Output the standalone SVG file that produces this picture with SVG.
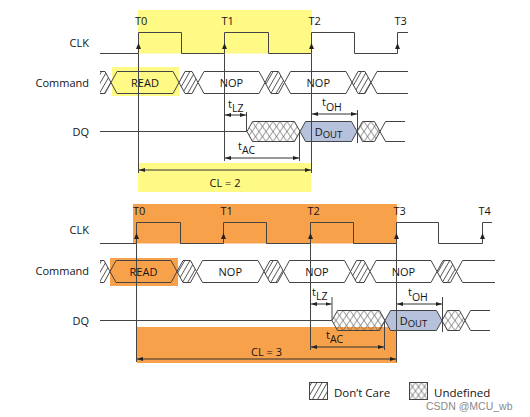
<svg xmlns="http://www.w3.org/2000/svg" width="530" height="417" viewBox="0 0 530 417">
<style>
text{font-family:"Open Sans","Noto Sans","Liberation Sans",sans-serif;font-size:11px;fill:#141414}
.lbl{text-anchor:end}
.mid{text-anchor:middle}
.sig{fill:none;stroke:#444;stroke-width:1}
.val{fill:#fff;stroke:#444;stroke-width:1}
.dc{fill:url(#dc);stroke:#444;stroke-width:1}
.ux1{fill:url(#ux1);stroke:#444;stroke-width:1}
.ux2{fill:url(#ux2);stroke:#444;stroke-width:1}
.dout{fill:#b6c1db;stroke:#444;stroke-width:1}
.ln{fill:none;stroke:#444;stroke-width:1}
.arr{fill:none;stroke:#333;stroke-width:1;marker-start:url(#ah);marker-end:url(#ah)}
.sub{font-size:9.5px}
.tsub{font-size:10.5px}
</style>
<defs>
<pattern id="dc" width="4.5" height="4.5" patternUnits="userSpaceOnUse" patternTransform="rotate(30)"><line x1="2.25" y1="-1" x2="2.25" y2="5.5" stroke="#444" stroke-width="0.8"/></pattern>
<pattern id="ux1" x="0" y="121.5" width="7" height="10" patternUnits="userSpaceOnUse"><path d="M0,0 L7,10 M7,0 L0,10" stroke="#555" stroke-width="0.7" fill="none"/></pattern>
<pattern id="ux2" x="0" y="310.5" width="7" height="10" patternUnits="userSpaceOnUse"><path d="M0,0 L7,10 M7,0 L0,10" stroke="#555" stroke-width="0.7" fill="none"/></pattern>
<pattern id="ux3" x="409.5" y="382.5" width="6" height="8.5" patternUnits="userSpaceOnUse"><path d="M0,0 L6,8.5 M6,0 L0,8.5" stroke="#555" stroke-width="0.7" fill="none"/></pattern>
<marker id="ah" viewBox="0 0 6 4" refX="6" refY="2" markerWidth="6" markerHeight="4" markerUnits="userSpaceOnUse" orient="auto-start-reverse"><path d="M0,0 L6,2 L0,4 Z" fill="#222"/></marker>
<path id="edge" d="M-2.5,6 L0,0 L2.5,6 Z" fill="#222"/>
</defs>

<g id="highlights">
<rect x="138" y="10" width="174" height="43.5" fill="#fff985"/>
<rect x="112" y="67" width="67" height="29" fill="#fff985"/>
<rect x="138" y="163" width="173" height="29" fill="#fff985"/>
<rect x="133" y="204" width="264" height="39.5" fill="#f8a14b"/>
<rect x="110" y="258" width="68" height="28" fill="#f8a14b"/>
<rect x="137" y="327" width="260" height="36" fill="#f8a14b"/>
</g>

<g id="labels-top">
<text class="lbl" x="89" y="46.5">CLK</text>
<text class="lbl" x="89" y="86.5">Command</text>
<text class="lbl" x="89" y="135.5">DQ</text>
<text x="135" y="25">T0</text>
<text x="221.5" y="25">T1</text>
<text x="308.5" y="25">T2</text>
<text x="394.5" y="25">T3</text>
</g>

<g id="clk-top">
<path class="sig" d="M100,53.5 H138.5 V32.5 H181.5 V53.5 H224.5 V32.5 H268.5 V53.5 H311.5 V32.5 H354.5 V53.5 H397.5 V32.5 H408"/>
<use href="#edge" x="138.5" y="43"/>
<use href="#edge" x="224.5" y="43"/>
<use href="#edge" x="311.5" y="43"/>
<use href="#edge" x="397.5" y="43"/>
</g>

<g id="cmd-top">
<polygon fill="url(#dc)" points="100,71.5 105,71.5 111,82.5 105,93.5 100,93.5"/>
<path class="sig" d="M100,71.5 H105 L111,82.5 L105,93.5 H100"/>
<polygon class="sig" points="111,82.5 117,71.5 173,71.5 179,82.5 173,93.5 117,93.5"/>
<text class="mid" x="145" y="86.5">READ</text>
<polygon class="dc" points="179,82.5 185,71.5 192,71.5 198,82.5 192,93.5 185,93.5"/>
<polygon class="val" points="198,82.5 204,71.5 259,71.5 265,82.5 259,93.5 204,93.5"/>
<text class="mid" x="231.5" y="86.5">NOP</text>
<polygon class="dc" points="265,82.5 271,71.5 278.5,71.5 284.5,82.5 278.5,93.5 271,93.5"/>
<polygon class="val" points="284.5,82.5 290.5,71.5 346,71.5 352,82.5 346,93.5 290.5,93.5"/>
<text class="mid" x="318.3" y="86.5">NOP</text>
<polygon class="dc" points="352,82.5 358,71.5 365,71.5 371,82.5 365,93.5 358,93.5"/>
<path class="sig" d="M408,71.5 H377 L371,82.5 L377,93.5 H408"/>
</g>

<g id="dq-top">
<path class="sig" d="M100,131.5 H247"/>
<polygon class="ux1" points="247,131.5 252.5,121.5 294.5,121.5 300,131.5 294.5,141.5 252.5,141.5"/>
<polygon class="dout" points="300,131.5 305.5,121.5 351.5,121.5 357,131.5 351.5,141.5 305.5,141.5"/>
<text class="mid" x="328.5" y="135.5">D<tspan class="sub" dy="2">OUT</tspan></text>
<polygon class="ux1" points="357,131.5 362.5,121.5 374.5,121.5 380,131.5 374.5,141.5 362.5,141.5"/>
<path class="sig" d="M405,121.5 H385.5 L380,131.5 L385.5,141.5 H405"/>
</g>

<g id="labels-bottom">
<text class="lbl" x="89" y="234">CLK</text>
<text class="lbl" x="89" y="275">Command</text>
<text class="lbl" x="89" y="324.5">DQ</text>
<text x="133" y="215">T0</text>
<text x="220.5" y="215">T1</text>
<text x="307.5" y="215">T2</text>
<text x="393.5" y="215">T3</text>
<text x="478.5" y="215">T4</text>
</g>

<g id="clk-bottom">
<path class="sig" d="M100,243.5 H136.5 V222.5 H180.5 V243.5 H223.5 V222.5 H266.5 V243.5 H310.5 V222.5 H353.5 V243.5 H396.5 V222.5 H438.5 V243.5 H482.5 V222.5 H492"/>
<use href="#edge" x="136.5" y="233"/>
<use href="#edge" x="223.5" y="233"/>
<use href="#edge" x="310.5" y="233"/>
<use href="#edge" x="396.5" y="233"/>
<use href="#edge" x="482.5" y="233"/>
</g>

<g id="cmd-bottom">
<polygon fill="url(#dc)" points="100,260.5 104,260.5 110,271.5 104,282.5 100,282.5"/>
<path class="sig" d="M100,260.5 H104 L110,271.5 L104,282.5 H100"/>
<polygon class="sig" points="110,271.5 116,260.5 171,260.5 177,271.5 171,282.5 116,282.5"/>
<text class="mid" x="143.5" y="275.5">READ</text>
<polygon class="dc" points="177,271.5 183,260.5 190.5,260.5 196.5,271.5 190.5,282.5 183,282.5"/>
<polygon class="val" points="196.5,271.5 202.5,260.5 258,260.5 264,271.5 258,282.5 202.5,282.5"/>
<text class="mid" x="230.3" y="275.5">NOP</text>
<polygon class="dc" points="264,271.5 270,260.5 277.5,260.5 283.5,271.5 277.5,282.5 270,282.5"/>
<polygon class="val" points="283.5,271.5 289.5,260.5 344.5,260.5 350.5,271.5 344.5,282.5 289.5,282.5"/>
<text class="mid" x="317" y="275.5">NOP</text>
<polygon class="dc" points="350.5,271.5 356.5,260.5 364,260.5 370,271.5 364,282.5 356.5,282.5"/>
<polygon class="val" points="370,271.5 376,260.5 431,260.5 437,271.5 431,282.5 376,282.5"/>
<text class="mid" x="403.5" y="275.5">NOP</text>
<polygon class="dc" points="437,271.5 443,260.5 450.5,260.5 456.5,271.5 450.5,282.5 443,282.5"/>
<path class="sig" d="M495,260.5 H462.5 L456.5,271.5 L462.5,282.5 H495"/>
</g>

<g id="dq-bottom">
<path class="sig" d="M100,320.5 H332"/>
<polygon class="ux2" points="332,320.5 337.5,310.5 379.5,310.5 385,320.5 379.5,330.5 337.5,330.5"/>
<polygon class="dout" points="385,320.5 390.5,310.5 436.5,310.5 442,320.5 436.5,330.5 390.5,330.5"/>
<text class="mid" x="413.5" y="324.5">D<tspan class="sub" dy="2">OUT</tspan></text>
<polygon class="ux2" points="442,320.5 447.5,310.5 459.5,310.5 465,320.5 459.5,330.5 447.5,330.5"/>
<path class="sig" d="M490,310.5 H470.5 L465,320.5 L470.5,330.5 H490"/>
</g>

<g id="connectors">
<path class="ln" d="M138.5,53.5 V173 M224.5,53.5 V161 M311.5,53.5 V173 M246.5,112 V131.5 M299.5,131.5 V161 M357.5,110 V143"/>
<path class="arr" d="M225,115 H246"/>
<path class="arr" d="M225,158 H299"/>
<path class="arr" d="M139,170 H311"/>
<path class="arr" d="M312,114 H357"/>
<path class="ln" d="M136.5,243.5 V362 M310.5,243.5 V350 M396.5,243.5 V362 M332,297 V320.5 M384.5,320.5 V350 M442.5,297 V332"/>
<path class="arr" d="M311,304 H331.5"/>
<path class="arr" d="M311,347 H384"/>
<path class="arr" d="M137,359 H396"/>
<path class="arr" d="M397,304 H442"/>
</g>

<g id="timing-labels">
<text x="228" y="108">t<tspan class="tsub" dy="4">LZ</tspan></text>
<text x="238" y="150">t<tspan class="tsub" dy="4">AC</tspan></text>
<text x="322" y="106">t<tspan class="tsub" dy="5">OH</tspan></text>
<text class="mid" x="225" y="187">CL = 2</text>
<text x="312" y="296">t<tspan class="tsub" dy="4">LZ</tspan></text>
<text x="326" y="339">t<tspan class="tsub" dy="4">AC</tspan></text>
<text x="408" y="296">t<tspan class="tsub" dy="5">OH</tspan></text>
<text class="mid" x="266.5" y="356">CL = 3</text>
</g>

<g id="legend">
<rect class="dc" x="309.5" y="382.5" width="18" height="17"/>
<text x="334" y="397" style="font-size:11.5px">Don’t Care</text>
<rect x="409.5" y="382.5" width="18" height="17" fill="url(#ux3)" stroke="#444"/>
<text x="434" y="396.5" style="font-size:11.5px">Undefined</text>
<text x="426" y="410" style="font-family:'Liberation Sans',Arial,sans-serif;font-size:10.5px;fill:#8a8a8a">CSDN @MCU_wb</text>
</g>
</svg>
